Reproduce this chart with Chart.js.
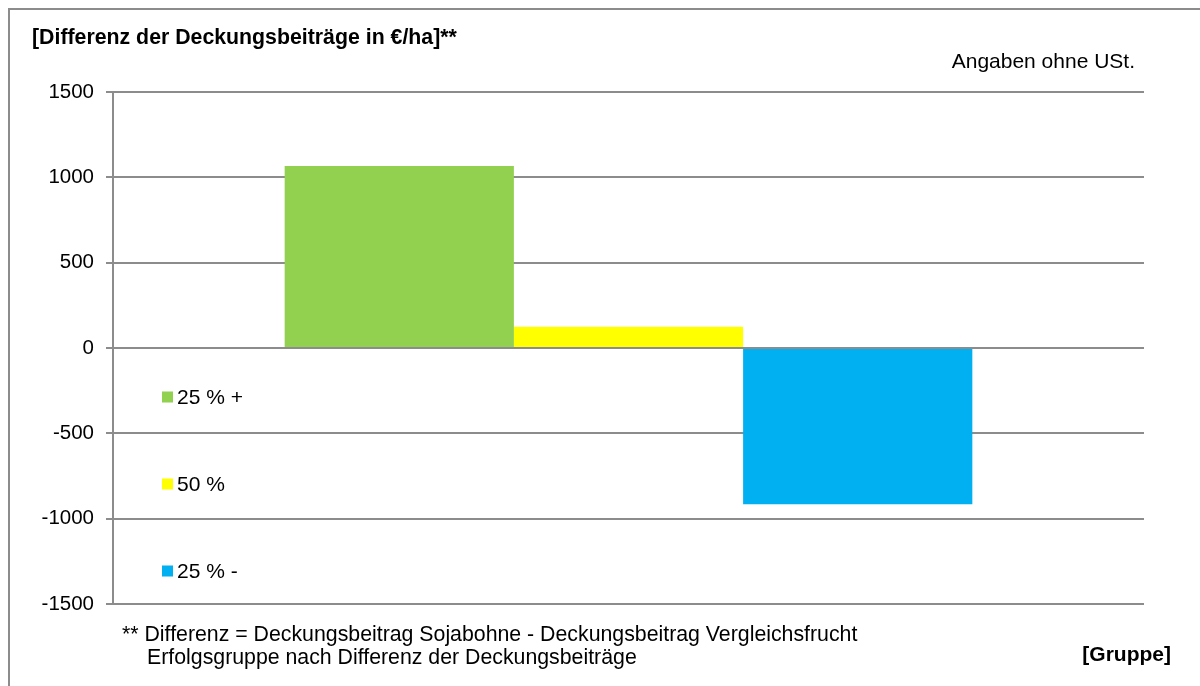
<!DOCTYPE html>
<html>
<head>
<meta charset="utf-8">
<script src="https://cdn.jsdelivr.net/npm/chart.js@4/dist/chart.umd.min.js"></script>
<style>
  html, body { margin: 0; padding: 0; background: #ffffff; }
  canvas { display: block; }
</style>
</head>
<body>
<canvas id="c" width="1200" height="686"></canvas>
<script>
// ---- data ----
const categories = ['Erfolgsgruppe'];
const seriesLabels = ['25 % +', '50 %', '25 % -'];
const seriesValues = [1067, 125, -916];
const seriesColors = ['#92D050', '#FFFF00', '#00B0F0'];
const yMin = -1500;
const yMax = 1500;
const yStep = 500;
const titleText = '[Differenz der Deckungsbeiträge in €/ha]**';
const noteText = 'Angaben ohne USt.';
const footnoteLines = ['** Differenz = Deckungsbeitrag Sojabohne - Deckungsbeitrag Vergleichsfrucht',
                       'Erfolgsgruppe nach Differenz der Deckungsbeiträge'];
const xAxisTitle = '[Gruppe]';

const FONT = '"Liberation Sans", Arial, sans-serif';
const GRID = '#8c8c8c';

const datasets = seriesLabels.map((lab, i) => ({
  label: lab,
  data: [seriesValues[i]],
  backgroundColor: seriesColors[i],
  borderWidth: 0,
  categoryPercentage: 0.667,
  barPercentage: 1.0
}));

const decorPlugin = {
  id: 'decor',
  beforeDraw(chart) {
    const ctx = chart.ctx;
    ctx.save();
    ctx.fillStyle = '#ffffff';
    ctx.fillRect(0, 0, chart.width, chart.height);
    // outer frame (top & left edges visible)
    ctx.strokeStyle = GRID;
    ctx.lineWidth = 2;
    ctx.beginPath();
    ctx.moveTo(9, chart.height);
    ctx.lineTo(9, 9);
    ctx.lineTo(chart.width, 9);
    ctx.stroke();
    ctx.restore();
  },
  afterDraw(chart) {
    const ctx = chart.ctx;
    ctx.save();
    ctx.fillStyle = '#000000';
    ctx.textBaseline = 'middle';
    // title
    ctx.font = 'bold 21.3px ' + FONT;
    ctx.textAlign = 'left';
    ctx.fillText(titleText, 32, 38);
    // note
    ctx.font = '21px ' + FONT;
    ctx.textAlign = 'right';
    ctx.fillText(noteText, 1135, 62);
    // footnotes
    ctx.textAlign = 'left';
    ctx.font = '21.3px ' + FONT;
    ctx.fillText(footnoteLines[0], 122, 635);
    ctx.fillText(footnoteLines[1], 147, 658);
    // x axis title
    ctx.font = 'bold 21px ' + FONT;
    ctx.textAlign = 'right';
    ctx.fillText(xAxisTitle, 1171, 655);
    // legend inside plot area
    const legendY = [397, 484, 571];
    chart.data.datasets.forEach((ds, i) => {
      const y = legendY[i];
      ctx.fillStyle = ds.backgroundColor;
      ctx.fillRect(162, y - 5.5, 11, 11);
      ctx.fillStyle = '#000000';
      ctx.font = '21px ' + FONT;
      ctx.textAlign = 'left';
      ctx.fillText(ds.label, 177, y + 1);
    });
    ctx.restore();
  }
};

new Chart(document.getElementById('c'), {
  type: 'bar',
  data: { labels: categories, datasets: datasets },
  options: {
    responsive: false,
    animation: false,
    devicePixelRatio: 1,
    layout: { padding: { left: 0, right: 56, top: 92, bottom: 82 } },
    plugins: {
      legend: { display: false },
      title: { display: false },
      tooltip: { enabled: false }
    },
    scales: {
      x: {
        display: false,
        grid: { display: false }
      },
      y: {
        min: yMin,
        max: yMax,
        afterFit(scale) { scale.width = 113; },
        ticks: {
          stepSize: yStep,
          color: '#000000',
          padding: 12,
          font: { family: FONT, size: 20.5 },
          callback: (v) => String(v)
        },
        grid: {
          color: GRID,
          lineWidth: 2,
          drawTicks: true,
          tickLength: 7
        },
        border: { display: true, color: GRID, width: 2 }
      }
    }
  },
  plugins: [decorPlugin]
});
</script>
</body>
</html>
